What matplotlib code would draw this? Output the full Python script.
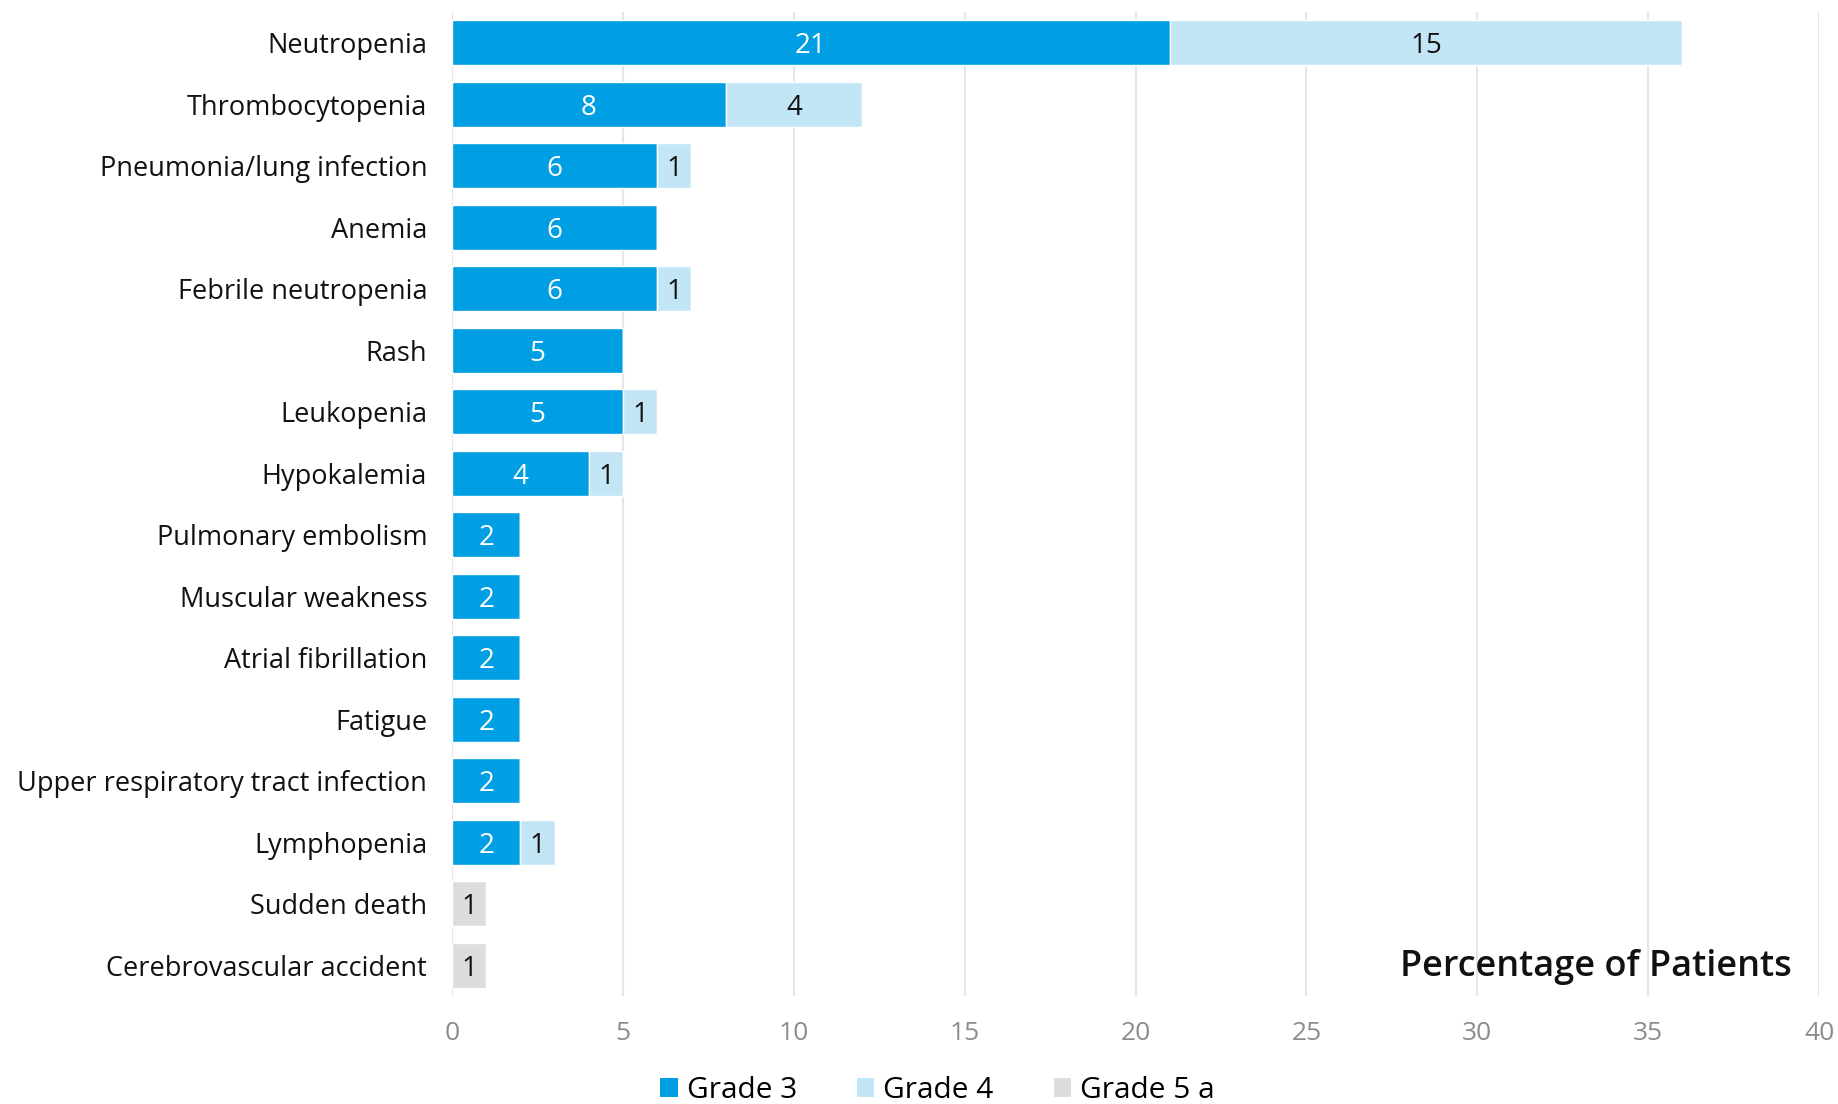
import matplotlib
matplotlib.use("Agg")
import matplotlib.pyplot as plt
import numpy as np
from matplotlib.patches import Patch

plt.rcParams['font.family'] = ['Open Sans', 'DejaVu Sans']

categories = ["Neutropenia", "Thrombocytopenia", "Pneumonia/lung infection", "Anemia",
              "Febrile neutropenia", "Rash", "Leukopenia", "Hypokalemia",
              "Pulmonary embolism", "Muscular weakness", "Atrial fibrillation", "Fatigue",
              "Upper respiratory tract infection", "Lymphopenia", "Sudden death",
              "Cerebrovascular accident"]
grade3 = [21, 8, 6, 6, 6, 5, 5, 4, 2, 2, 2, 2, 2, 2, 0, 0]
grade4 = [15, 4, 1, 0, 1, 0, 1, 1, 0, 0, 0, 0, 0, 1, 0, 0]
grade5 = [0, 0, 0, 0, 0, 0, 0, 0, 0, 0, 0, 0, 0, 0, 1, 1]
series_names = ["Grade 3", "Grade 4", "Grade 5 a"]
xticks = [0, 5, 10, 15, 20, 25, 30, 35, 40]

colors = ["#009FE3", "#C3E6F7", "#DDDDDD"]
text_colors = ["white", "#111111", "#111111"]

fig = plt.figure(figsize=(18.38, 11.04), dpi=100)
ax = fig.add_axes([0.246, 0.098, 0.7437, 0.891])

y = np.arange(len(categories))
left = np.zeros(len(categories))
for vals, c, tc in zip([grade3, grade4, grade5], colors, text_colors):
    vals = np.array(vals, dtype=float)
    ax.barh(y, vals, left=left, height=0.73, color=c, edgecolor="white", linewidth=1, zorder=3)
    for yi, (l, v) in enumerate(zip(left, vals)):
        if v > 0:
            ax.text(l + v / 2, yi, f"{int(v)}", ha="center", va="center_baseline",
                    fontsize=20, color=tc, zorder=4)
    left += vals

ax.set_ylim(len(categories) - 0.5, -0.5)
ax.set_xlim(0, 40)
ax.set_yticks(y)
ax.set_yticklabels(categories, fontsize=19.5, color="#111111")
ax.set_xticks(xticks)
ax.set_xticklabels([str(t) for t in xticks], fontsize=19, color="#8C8C8C")
ax.tick_params(axis="both", length=0)
ax.tick_params(axis="y", pad=18)
ax.tick_params(axis="x", pad=18)
for s in ax.spines.values():
    s.set_visible(False)
ax.grid(axis="x", color="#E6E6E6", linewidth=1.5, zorder=0)
ax.set_axisbelow(True)

ax.text(39.2, 15.03, "Percentage of Patients", ha="right", va="center",
        fontsize=26, fontweight="semibold", color="#111111")

handles = [Patch(facecolor=c, edgecolor="none") for c in colors]
fig.legend(handles, series_names, loc="center", bbox_to_anchor=(0.51, 0.012),
           ncol=3, frameon=False, fontsize=21.5, handlelength=0.6, handleheight=0.6,
           handletextpad=0.3, columnspacing=2.0)

fig.savefig("out.png", dpi=100)
